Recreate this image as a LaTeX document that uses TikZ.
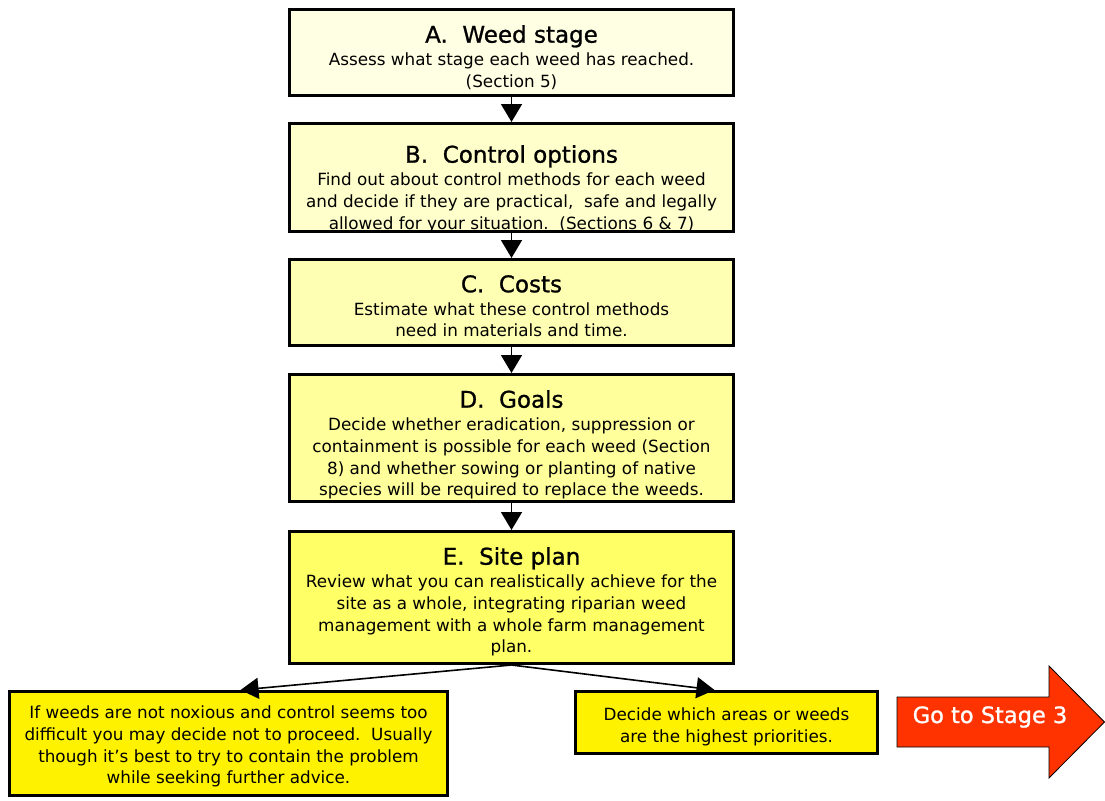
\documentclass[tikz,border=0pt]{standalone}
\usepackage{fontspec}
\setmainfont{DejaVu Sans}
\newfontfamily\titlefont[FakeBold=1]{DejaVu Sans}
\usetikzlibrary{arrows.meta}
\definecolor{paleA}{HTML}{FFFFE4}
\definecolor{paleB}{HTML}{FFFFCC}
\definecolor{paleC}{HTML}{FFFFB4}
\definecolor{paleD}{HTML}{FFFF9C}
\definecolor{paleE}{HTML}{FFFF66}
\definecolor{gored}{HTML}{FF3300}
\newcommand\stagetitle{\titlefont\fontsize{23}{28}\selectfont}
\newcommand\stagetext{\fontsize{16.8}{21.8}\selectfont}
\tikzset{
  stagebox/.style={draw, line width=3pt, minimum width=444pt, inner sep=0pt},
  stagelabel/.style={anchor=north, yshift=-17pt, align=center, inner sep=0pt, font=\stagetext},
  endbox/.style={draw, line width=3pt, fill=yellow, inner sep=0pt},
  flow/.style={-{Triangle[width=21pt,length=18pt]}, line width=1.6pt},
}
\begin{document}
\begin{tikzpicture}[x=1pt,y=-1pt]
  \useasboundingbox (0,0) rectangle (1105,800);

  \node[stagebox, fill=paleA, minimum height=86pt] (weed) at (511.5,52.5) {};
  \node[stagelabel] (weedtext) at (weed.north)
    {{\stagetitle A.\ \ Weed stage}\\[1pt]
     Assess what stage each weed has reached.\\ (Section 5)};

  \node[stagebox, fill=paleB, minimum height=108pt] (control) at (511.5,177.5) {};
  \node[stagelabel, yshift=-6pt] (controltext) at (control.north)
    {{\stagetitle B.\ \ Control options}\\[1pt]
     Find out about control methods for each weed\\
     and decide if they are practical,\ \ safe and legally\\
     allowed for your situation.\ \ (Sections 6 \& 7)};

  \node[stagebox, fill=paleC, minimum height=86pt] (costs) at (511.5,302.5) {};
  \node[stagelabel] (coststext) at (costs.north)
    {{\stagetitle C.\ \ Costs}\\[1pt]
     Estimate what these control methods\\ need in materials and time.};

  \node[stagebox, fill=paleD, minimum height=127pt] (goals) at (511.5,438) {};
  \node[stagelabel] (goalstext) at (goals.north)
    {{\stagetitle D.\ \ Goals}\\[1pt]
     Decide whether eradication, suppression or\\
     containment is possible for each weed (Section\\
     8) and whether sowing or planting of native\\
     species will be required to replace the weeds.};

  \node[stagebox, fill=paleE, minimum height=132pt] (site) at (511.5,597.5) {};
  \node[stagelabel] (sitetext) at (site.north)
    {{\stagetitle E.\ \ Site plan}\\[1pt]
     Review what you can realistically achieve for the\\
     site as a whole, integrating riparian weed\\
     management with a whole farm management\\ plan.};

  \node[endbox, minimum width=438pt, minimum height=104pt] (stop) at (228.5,743.5) {};
  \node[stagelabel, yshift=1.5pt] (stoptext) at (stop.north)
    {If weeds are not noxious and control seems too\\
     difficult you may decide not to proceed.\ \ Usually\\
     though it’s best to try to contain the problem\\
     while seeking further advice.};
  \node[endbox, minimum width=302pt, minimum height=62pt] (priority) at (726.5,722.5) {};
  \node[stagelabel, yshift=-1pt] (prioritytext) at (priority.north)
    {Decide which areas or weeds\\ are the highest priorities.};

  % big arrow to the next stage
  \draw[fill=gored, line width=0.8pt] (897,697) -- (1049,697) -- (1049,666) -- (1104.5,722)
    -- (1049,778) -- (1049,747) -- (897,747) -- cycle;
  \node[text=white, font=\titlefont\fontsize{22.5}{26}\selectfont] (next) at (990,717) {Go to Stage 3};

  \draw[flow] (weed) -- (control);
  \draw[flow] (control) -- (costs);
  \draw[flow] (costs) -- (goals);
  \draw[flow] (goals) -- (site);
  \draw[flow] (site.south) -- ([xshift=12pt]stop.north);
  \draw[flow] (site.south) -- ([xshift=-12pt]priority.north);
\end{tikzpicture}
\end{document}
